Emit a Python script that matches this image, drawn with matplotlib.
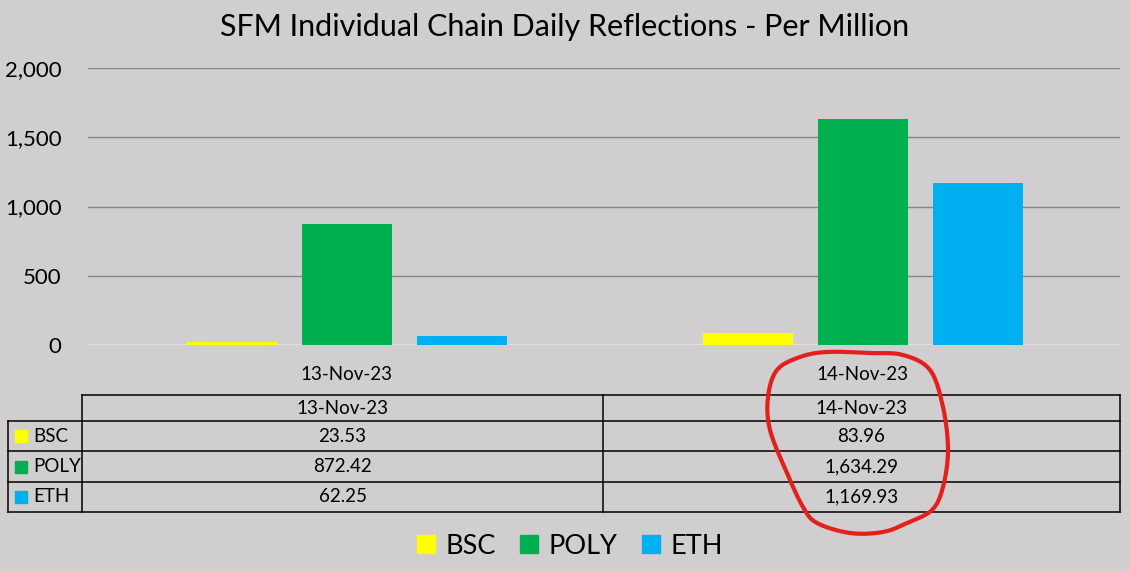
import matplotlib.pyplot as plt
from matplotlib.lines import Line2D
from matplotlib.patches import Rectangle
import numpy as np

dates = ['13-Nov-23', '14-Nov-23']
chains = ['BSC', 'POLY', 'ETH']
bsc = [23.53, 83.96]
poly = [872.42, 1634.29]
eth = [62.25, 1169.93]
yticks = [0, 500, 1000, 1500, 2000]
colors = ['#FFFF00', '#00B050', '#00B0F0']
series = [bsc, poly, eth]

BG = '#D0CECE'
W, H = 1129, 571
plt.rcParams['font.family'] = ['Lato', 'DejaVu Sans']

fig = plt.figure(figsize=(W / 100, H / 100), dpi=100, facecolor=BG)


def fx(px):
    return px / W


def fy(py):
    return 1 - py / H


ax = fig.add_axes([fx(88), fy(345), fx(1120) - fx(88), fy(68) - fy(345)])
ax.set_facecolor(BG)

x = np.arange(len(dates))
bw = 90 / 516
step = 115 / 516
for i, (vals, c) in enumerate(zip(series, colors)):
    ax.bar(x + (i - 1) * step + 1 / 516, vals, width=bw, color=c, zorder=3)

ax.set_xlim(-0.5, 1.5)
ax.set_ylim(0, 2000)
ax.set_yticks(yticks)
ax.set_yticklabels([f'{v:,}' for v in yticks], fontsize=16)
ax.set_xticks(x)
ax.set_xticklabels(dates, fontsize=13.5)
ax.tick_params(axis='y', length=0, pad=19)
ax.tick_params(axis='x', length=0, pad=15)
for s in ax.spines.values():
    s.set_visible(False)
for v in yticks[1:]:
    ax.axhline(v, color='#868686', lw=1, zorder=1)
ax.axhline(0, color='#E4E4E4', lw=1.2, zorder=2)

fig.text(0.5, fy(27), 'SFM Individual Chain Daily Reflections - Per Million',
         ha='center', va='center', fontsize=22)

# data table under the chart
def hline(y, x0, x1):
    fig.add_artist(Line2D([fx(x0), fx(x1)], [fy(y), fy(y)], color='black', lw=1.1))


def vline(xp, y0, y1):
    fig.add_artist(Line2D([fx(xp), fx(xp)], [fy(y0), fy(y1)], color='black', lw=1.1))


rows = [395, 421, 451, 482, 512]
cols = [82, 603, 1120]
hline(rows[0], cols[0], cols[-1])
for r in rows[1:]:
    hline(r, 8, cols[-1])
vline(8, rows[1], rows[-1])
for c in cols:
    vline(c, rows[0], rows[-1])

for j, d in enumerate(dates):
    cx = (cols[j] + cols[j + 1]) / 2
    fig.text(fx(cx), fy((rows[0] + rows[1]) / 2), d, ha='center', va='center', fontsize=13.5)
for i, (name, vals, c) in enumerate(zip(chains, series, colors)):
    cy = (rows[i + 1] + rows[i + 2]) / 2
    fig.add_artist(Rectangle((fx(15), fy(cy + 6)), fx(12), 12 / H, color=c,
                             transform=fig.transFigure))
    fig.text(fx(33), fy(cy), name, ha='left', va='center', fontsize=13.5)
    for j, v in enumerate(vals):
        cx = (cols[j] + cols[j + 1]) / 2
        fig.text(fx(cx), fy(cy), f'{v:,.2f}', ha='center', va='center', fontsize=13.5)

# legend
handles = [Rectangle((0, 0), 1, 1, color=c) for c in colors]
fig.legend(handles, chains, loc='center', bbox_to_anchor=(fx(570), fy(546)), ncol=3,
           frameon=False, fontsize=19.5, handlelength=0.65, handleheight=0.65,
           handletextpad=0.4, columnspacing=0.9)

# red hand-drawn circle around the 14-Nov-23 column
pts = np.array([(870, 353), (903, 355), (930, 370), (943, 407), (948, 450), (943, 487),
                (932, 510), (907, 523), (883, 532), (850, 533), (817, 523), (803, 507),
                (787, 473), (770, 430), (768, 397), (777, 370), (800, 357), (827, 352)], float)
n = len(pts)
curve = []
for k in range(n):
    p0, p1, p2, p3 = pts[k - 1], pts[k], pts[(k + 1) % n], pts[(k + 2) % n]
    for t in np.linspace(0, 1, 12, endpoint=False):
        curve.append(0.5 * ((2 * p1) + (-p0 + p2) * t + (2 * p0 - 5 * p1 + 4 * p2 - p3) * t ** 2
                            + (-p0 + 3 * p1 - 3 * p2 + p3) * t ** 3))
curve.append(curve[0])
curve = np.array(curve)
fig.add_artist(Line2D(curve[:, 0] / W, 1 - curve[:, 1] / H, color='#E3201B', lw=3,
                      solid_capstyle='round'))

fig.savefig('out.png', dpi=100, facecolor=BG)
